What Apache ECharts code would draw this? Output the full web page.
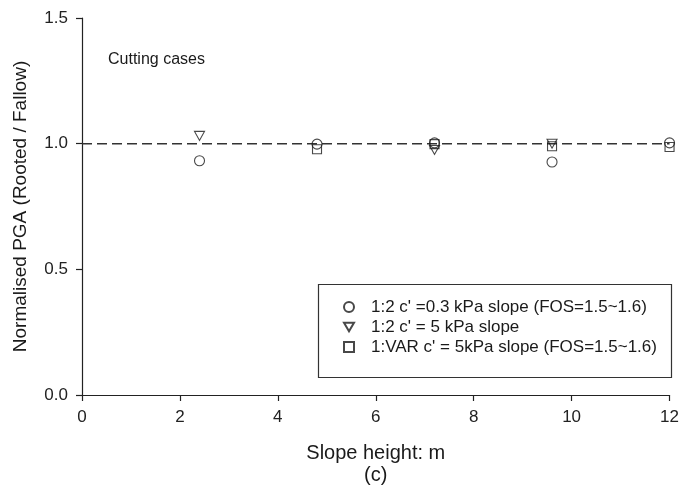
<!DOCTYPE html>
<html>
<head>
<meta charset="utf-8">
<script src="https://cdn.jsdelivr.net/npm/echarts@6/dist/echarts.min.js"></script>
<style>
  html, body { margin: 0; padding: 0; background: #fff; }
  #chart { width: 682px; height: 491px; }
</style>
</head>
<body>
<div id="chart"></div>
<script>
// Slope heights (m) and normalised PGA ratios for the cutting cases
const heightsCircle = [2.4, 4.8, 7.2, 9.6, 12];
const pgaCircle = [0.932, 0.998, 1.003, 0.927, 1.003];

const heightsTriangle = [2.4, 7.2, 9.6];
const pgaTriangle = [1.031, 0.975, 1.0];

const heightsSquare = [4.8, 7.2, 9.6, 12];
const pgaSquare = [0.978, 0.998, 0.99, 0.987];

// Reference ratio line (rooted = fallow)
const refX = [0, 12];
const refY = [1.0, 1.0];

const seriesNames = [
  "1:2 c' =0.3 kPa slope (FOS=1.5~1.6)",
  "1:2 c' = 5 kPa slope",
  "1:VAR c' = 5kPa slope (FOS=1.5~1.6)"
];

const xTicks = [0, 2, 4, 6, 8, 10, 12];
const yTicks = [0.0, 0.5, 1.0, 1.5];

const pairs = (xs, ys) => xs.map((x, i) => [x, ys[i]]);

const FONT = 'Liberation Sans, Arial, sans-serif';
const INK = '#1a1a1a';
const markerStyle = { color: 'rgba(255,255,255,0)', borderColor: '#1a1a1a', borderWidth: 1.1 };
const triangleDown = 'path://M0,0L20,0L10,17Z';

const chart = echarts.init(document.getElementById('chart'), null, { renderer: 'canvas' });

chart.setOption({
  animation: false,
  backgroundColor: '#fff',
  textStyle: { fontFamily: FONT, color: INK },
  grid: { left: 82, right: 6, top: 18, bottom: 95, containLabel: false },
  xAxis: {
    type: 'value',
    min: xTicks[0],
    max: xTicks[xTicks.length - 1],
    interval: 2,
    name: 'Slope height: m\n(c)',
    nameLocation: 'middle',
    nameGap: 47,
    nameTextStyle: { fontFamily: FONT, fontSize: 20, color: INK, lineHeight: 22 },
    axisLine: { show: true, onZero: false, lineStyle: { color: '#222', width: 1.2 } },
    axisTick: { show: true, inside: false, length: 6, lineStyle: { color: '#222', width: 1.2 } },
    axisLabel: { fontFamily: FONT, fontSize: 17, color: '#222', margin: 14 },
    splitLine: { show: false }
  },
  yAxis: {
    type: 'value',
    min: yTicks[0],
    max: yTicks[yTicks.length - 1],
    interval: 0.5,
    name: 'Normalised PGA (Rooted / Fallow)',
    nameLocation: 'middle',
    nameGap: 52,
    nameTextStyle: { fontFamily: FONT, fontSize: 19, color: INK },
    axisLine: { show: true, onZero: false, lineStyle: { color: '#222', width: 1.2 } },
    axisTick: { show: true, inside: false, length: 6, lineStyle: { color: '#222', width: 1.2 } },
    axisLabel: { fontFamily: FONT, fontSize: 17, color: '#222', margin: 14,
      formatter: v => v.toFixed(1) },
    splitLine: { show: false }
  },
  legend: {
    orient: 'vertical',
    left: 343,
    top: 297,
    padding: 0,
    itemGap: 0,
    itemWidth: 10,
    itemHeight: 10,
    textStyle: { fontFamily: FONT, fontSize: 17, color: INK, lineHeight: 20, padding: [0, 0, 0, 12] },
    data: seriesNames.map((n, i) => ({
      name: n,
      icon: i === 0 ? 'circle' : i === 1 ? triangleDown : 'rect'
    }))
  },
  graphic: [
    {
      type: 'text',
      left: 108,
      top: 52,
      style: { text: 'Cutting cases', font: '16px ' + FONT, fill: INK }
    },
    {
      type: 'rect',
      shape: { x: 318.5, y: 284.5, width: 353, height: 93 },
      style: { fill: 'none', stroke: '#333', lineWidth: 1.2 },
      silent: true
    }
  ],
  series: [
    {
      type: 'line',
      data: pairs(refX, refY),
      symbol: 'none',
      silent: true,
      z: 1,
      lineStyle: { color: '#333', width: 1.5, type: [10, 5] }
    },
    {
      name: seriesNames[0],
      type: 'scatter',
      data: pairs(heightsCircle, pgaCircle),
      symbol: 'circle',
      symbolSize: 10,
      itemStyle: markerStyle,
      z: 3
    },
    {
      name: seriesNames[1],
      type: 'scatter',
      data: pairs(heightsTriangle, pgaTriangle),
      symbol: triangleDown,
      symbolSize: [10, 9],
      itemStyle: markerStyle,
      z: 3
    },
    {
      name: seriesNames[2],
      type: 'scatter',
      data: pairs(heightsSquare, pgaSquare),
      symbol: 'rect',
      symbolSize: 9,
      itemStyle: markerStyle,
      z: 3
    }
  ]
});
</script>
</body>
</html>
